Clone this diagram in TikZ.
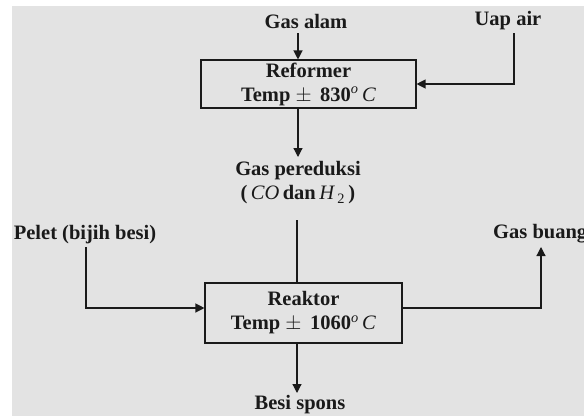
\documentclass[tikz,border=0pt]{standalone}
\usepackage{fontspec}
\setmainfont{Liberation Serif}
\usetikzlibrary{arrows.meta}
\definecolor{bggray}{HTML}{E3E3E3}
\definecolor{ink}{HTML}{1A1A1A}
\tikzset{
  lbl/.style={inner sep=0pt, text=ink, font=\fontsize{20.5}{24}\selectfont\bfseries},
  procbox/.style={draw=ink, line width=1.1pt, minimum width=197pt, align=center, inner sep=0pt, text=ink, font=\fontsize{20.5}{24}\selectfont\bfseries},
  flow/.style={draw=ink, line width=1.2pt},
  flowarr/.style={flow, -{Triangle[length=9pt,width=9pt]}}
}
\newcommand{\degC}{\textsuperscript{\mdseries\itshape o}\,\textmd{\textit{C}}}
\begin{document}
\begin{tikzpicture}[x=1pt,y=-1pt]
\useasboundingbox (0,0) rectangle (584,416);
\fill[white] (0,0) rectangle (584,416);
\fill[bggray] (12,6) rectangle (584,416);

% reformer
\node[procbox, minimum width=215pt, minimum height=48pt] (reformer) at (308.5,84) {Reformer\\Temp $\pm$ \,830\degC};
\node[lbl] (gasalam) at (306,21) {Gas alam};
\node[lbl] (uap) at (508,21) {Uap air};
\coordinate (gaTop) at (298,33);
\coordinate (uapTop) at (514,33);
\coordinate (uapBend) at (514,84);
\draw[flowarr] (gaTop) -- (gaTop |- reformer.north);
\draw[flowarr] (uapTop) -- (uapBend) -- (reformer.east |- uapBend);

% gas pereduksi
\node[lbl, align=center] (gasred) at (298,183) {Gas pereduksi\\(\,\textmd{\textit{CO}}\,dan\,\textmd{\textit{H}}\textsubscript{\,\textmd{2}}\,)};
\coordinate (refOut) at (298,108);
\draw[flowarr] (refOut) -- (298,157);

% reaktor
\node[procbox, minimum height=60pt] (reaktor) at (303.5,313) {Reaktor\\Temp $\pm$ \,1060\degC};
\coordinate (redLineTop) at (297,220);
\draw[flow] (redLineTop) -- (redLineTop |- reaktor.north);

% pelet
\node[lbl] (pelet) at (85,235) {Pelet (bijih besi)};
\coordinate (peletTop) at (86,247);
\coordinate (peletBend) at (86,308);
\draw[flowarr] (peletTop) -- (peletBend) -- (reaktor.west |- peletBend);

% gas buang
\node[lbl, anchor=west] (buang) at (493,234) {Gas buang};
\coordinate (buangBend) at (541,308);
\coordinate (buangTop) at (541,247);
\draw[flowarr] (reaktor.east |- buangBend) -- (buangBend) -- (buangTop);

% besi spons
\node[lbl] (besi) at (300,405) {Besi spons};
\coordinate (reakOut) at (297,343);
\draw[flowarr] (reakOut) -- (297,393);
\end{tikzpicture}
\end{document}
